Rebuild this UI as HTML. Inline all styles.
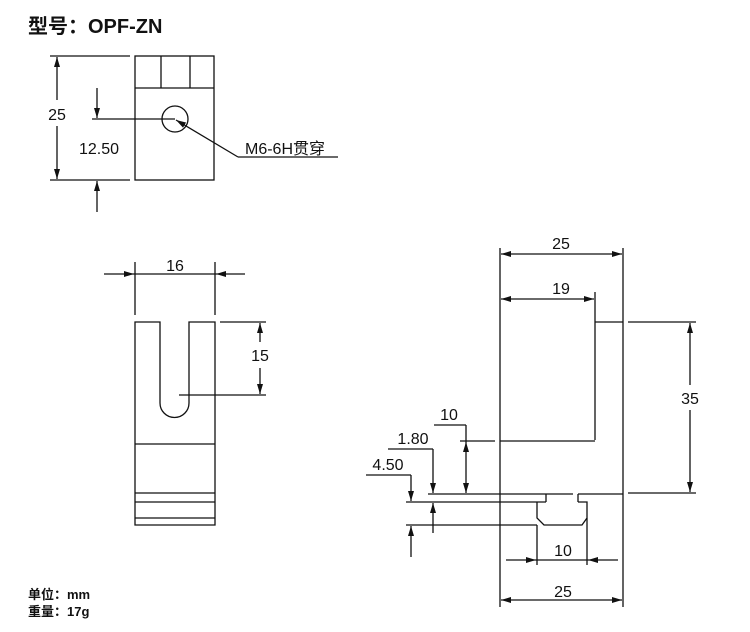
<!DOCTYPE html>
<html><head><meta charset="utf-8"><style>
html,body{margin:0;padding:0;background:#fff;}
svg{display:block}
text{font-family:"Liberation Sans","Noto Sans CJK SC",sans-serif;fill:#111;}
</style></head><body>
<svg width="750" height="632" viewBox="0 0 750 632" xmlns="http://www.w3.org/2000/svg">
<defs>
<marker id="a" viewBox="0 0 10 6" refX="10" refY="3" markerWidth="10" markerHeight="6" markerUnits="userSpaceOnUse" orient="auto-start-reverse"><path d="M0,0 L10,3 L0,6 z" fill="#111"/></marker>
</defs>
<text x="28" y="33" font-size="20" font-weight="bold" font-family="'Liberation Sans','Noto Sans CJK SC',sans-serif">型号：OPF-ZN</text>
<text x="28" y="599" font-size="13" font-weight="bold">单位：mm</text>
<text x="28" y="616" font-size="13" font-weight="bold">重量：17g</text>

<g stroke="#111" stroke-width="1.3" fill="none">
<rect x="135" y="56" width="79" height="124"/>
<line x1="135" y1="88" x2="214" y2="88"/>
<line x1="161" y1="56" x2="161" y2="88"/>
<line x1="190" y1="56" x2="190" y2="88"/>
<circle cx="175" cy="119" r="13"/>
<line x1="50" y1="56" x2="130" y2="56"/>
<line x1="50" y1="180" x2="130" y2="180"/>
<line x1="57" y1="57" x2="57" y2="100" marker-start="url(#a)"/>
<line x1="57" y1="126" x2="57" y2="179" marker-end="url(#a)"/>
<line x1="97" y1="88" x2="97" y2="118" marker-end="url(#a)"/>
<line x1="92" y1="119" x2="175" y2="119"/>
<line x1="97" y1="212" x2="97" y2="181" marker-end="url(#a)"/>
<line x1="238" y1="157" x2="176" y2="120" marker-end="url(#a)"/>
<line x1="238" y1="157" x2="338" y2="157"/>

<path d="M135,525 L135,322 L160,322 L160,403 A14.5,14.5 0 0 0 189,403 L189,322 L215,322 L215,525 Z"/>
<line x1="135" y1="444" x2="215" y2="444"/>
<line x1="135" y1="493" x2="215" y2="493"/>
<line x1="135" y1="502" x2="215" y2="502"/>
<line x1="135" y1="518" x2="215" y2="518"/>
<line x1="135" y1="262" x2="135" y2="315"/>
<line x1="215" y1="262" x2="215" y2="315"/>
<line x1="104" y1="274" x2="134" y2="274" marker-end="url(#a)"/>
<line x1="134" y1="274" x2="216" y2="274"/>
<line x1="245" y1="274" x2="216" y2="274" marker-end="url(#a)"/>
<line x1="220" y1="322" x2="266" y2="322"/>
<line x1="179" y1="395" x2="266" y2="395"/>
<line x1="260" y1="323" x2="260" y2="342" marker-start="url(#a)"/>
<line x1="260" y1="368" x2="260" y2="394" marker-end="url(#a)"/>

<line x1="500" y1="248" x2="500" y2="607"/>
<line x1="623" y1="248" x2="623" y2="607"/>
<line x1="595" y1="292" x2="595" y2="440"/>
<line x1="595" y1="322" x2="623" y2="322"/>
<line x1="500" y1="441" x2="595" y2="441"/>
<line x1="428" y1="494" x2="573" y2="494"/>
<line x1="578" y1="494" x2="623" y2="494"/>
<line x1="406" y1="502" x2="546" y2="502"/>
<line x1="546" y1="494" x2="546" y2="502"/>
<line x1="578" y1="494" x2="578" y2="502"/>
<path d="M537,502 L537,518 L544,525 L582,525 L587,518 L587,502 L578,502"/>
<line x1="406" y1="525" x2="537" y2="525"/>
<line x1="537" y1="525" x2="537" y2="565"/>
<line x1="587" y1="518" x2="587" y2="565"/>
<line x1="501" y1="254" x2="622" y2="254" marker-start="url(#a)" marker-end="url(#a)"/>
<line x1="501" y1="299" x2="594" y2="299" marker-start="url(#a)" marker-end="url(#a)"/>
<line x1="628" y1="322" x2="696" y2="322"/>
<line x1="628" y1="493" x2="696" y2="493"/>
<line x1="690" y1="323" x2="690" y2="385" marker-start="url(#a)"/>
<line x1="690" y1="410" x2="690" y2="492" marker-end="url(#a)"/>
<line x1="460" y1="441" x2="495" y2="441"/>
<line x1="434" y1="425" x2="466" y2="425"/>
<line x1="466" y1="425" x2="466" y2="442"/>
<line x1="466" y1="442" x2="466" y2="493" marker-start="url(#a)" marker-end="url(#a)"/>
<line x1="388" y1="449" x2="433" y2="449"/>
<line x1="433" y1="449" x2="433" y2="493" marker-end="url(#a)"/>
<line x1="433" y1="533" x2="433" y2="503" marker-end="url(#a)"/>
<line x1="366" y1="475" x2="411" y2="475"/>
<line x1="411" y1="475" x2="411" y2="501" marker-end="url(#a)"/>
<line x1="411" y1="557" x2="411" y2="526" marker-end="url(#a)"/>
<line x1="506" y1="560" x2="536" y2="560" marker-end="url(#a)"/>
<line x1="536" y1="560" x2="588" y2="560"/>
<line x1="618" y1="560" x2="588" y2="560" marker-end="url(#a)"/>
<line x1="501" y1="600" x2="622" y2="600" marker-start="url(#a)" marker-end="url(#a)"/>
</g>

<g font-size="16">
<text x="57" y="120" text-anchor="middle">25</text>
<text x="99" y="154" text-anchor="middle">12.50</text>
<text x="245" y="154">M6-6H贯穿</text>
<text x="175" y="271" text-anchor="middle">16</text>
<text x="260" y="361" text-anchor="middle">15</text>
<text x="561" y="249" text-anchor="middle">25</text>
<text x="561" y="294" text-anchor="middle">19</text>
<text x="690" y="404" text-anchor="middle">35</text>
<text x="449" y="420" text-anchor="middle">10</text>
<text x="413" y="444" text-anchor="middle">1.80</text>
<text x="388" y="470" text-anchor="middle">4.50</text>
<text x="563" y="556" text-anchor="middle">10</text>
<text x="563" y="597" text-anchor="middle">25</text>
</g>
</svg>
</body></html>
